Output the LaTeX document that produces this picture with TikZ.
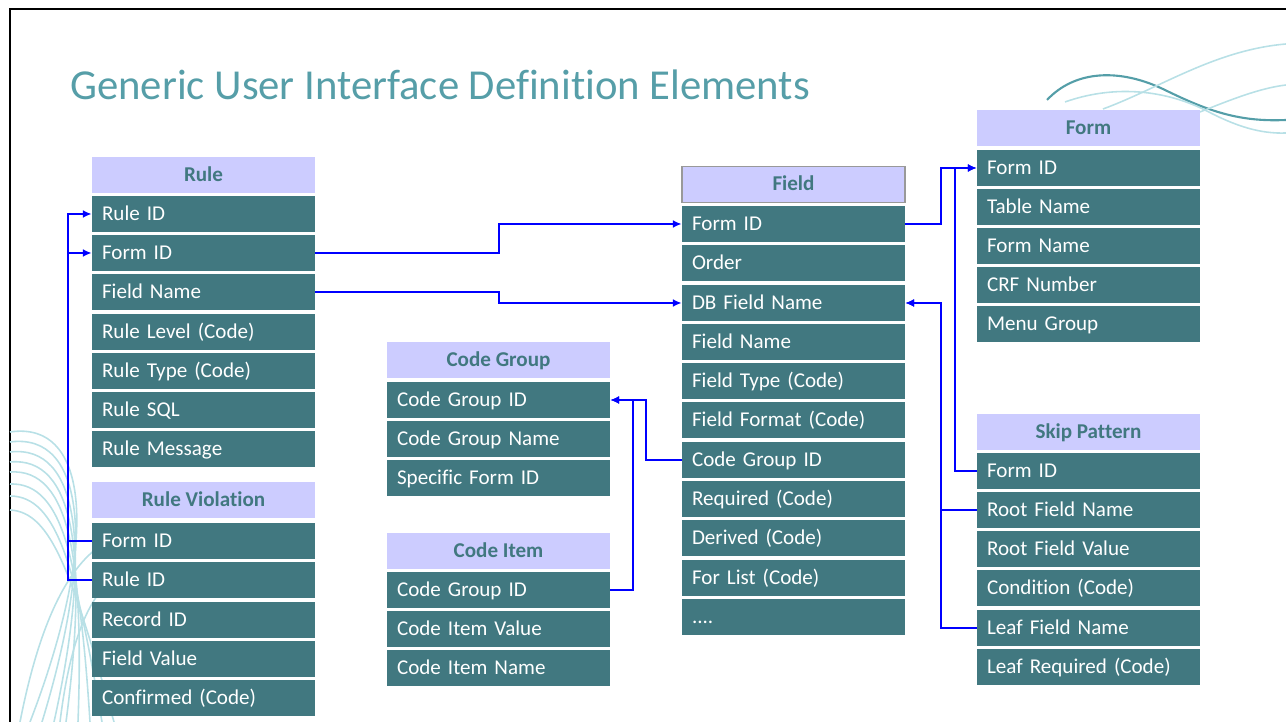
\documentclass[tikz,border=0pt]{standalone}
\usepackage{fontspec}
\setmainfont{Carlito}[Ligatures=NoCommon]
\usetikzlibrary{arrows.meta}

\definecolor{rowteal}{RGB}{65,120,128}
\definecolor{headlav}{RGB}{204,204,255}
\definecolor{titleteal}{RGB}{86,158,168}
\definecolor{decolight}{RGB}{184,224,230}
\definecolor{decodark}{RGB}{84,158,168}

\tikzset{
  row/.style={fill=rowteal, text=white, text width=4.06cm, inner xsep=0.2cm,
    minimum height=0.72cm, align=left, text height=9pt, text depth=1.8pt,
    font=\fontsize{12}{14}\selectfont},
  head/.style={fill=headlav, text=rowteal, minimum width=4.46cm, minimum height=0.72cm,
    text height=9pt, text depth=1.8pt, font=\fontsize{12}{14}\selectfont\bfseries},
  link/.style={blue, line width=1.1pt},
  deco/.style={decolight, line width=0.9pt},
}

\begin{document}
\begin{tikzpicture}[x=0.02cm, y=-0.02cm, >={Latex[length=5pt,width=4.5pt]}]
    \useasboundingbox (0,0) rectangle (1286,722);
    \draw[line width=1.2pt] (10,722) -- (10,9) -- (1286,9);

    % background swirls
    \draw[decodark, line width=1.2pt] (1047,100) .. controls (1075,70) and (1120,68) .. (1165,90)
        .. controls (1210,112) and (1240,122) .. (1286,120);
    \draw[deco] (1065,102) .. controls (1110,86) and (1160,88) .. (1205,110)
        .. controls (1235,126) and (1260,134) .. (1286,133);
    \draw[deco] (1103,109) .. controls (1160,88) and (1215,50) .. (1286,44);
    \draw[deco] (1200,112) .. controls (1230,100) and (1260,88) .. (1286,85);

    \draw[deco] (10,432) .. controls (90,420) and (100,540) .. (30,722);
    \draw[deco] (10,442) .. controls (85,432) and (96,545) .. (42,722);
    \draw[deco] (10,452) .. controls (80,444) and (92,550) .. (54,722);
    \draw[deco] (10,462) .. controls (75,456) and (88,555) .. (66,722);
    \draw[deco] (10,472) .. controls (70,468) and (84,560) .. (78,722);
    \draw[deco] (10,484) .. controls (64,482) and (80,565) .. (90,722);
    \draw[deco] (10,496) .. controls (58,496) and (76,570) .. (102,722);
    \draw[deco] (10,510) .. controls (52,512) and (72,575) .. (114,722);
    \draw[deco] (20,722) .. controls (40,620) and (70,560) .. (110,540);
    \draw[deco] (60,722) .. controls (70,640) and (90,590) .. (120,575);

    \node[titleteal, anchor=base west, inner sep=0pt, font=\fontsize{24.3}{28}\selectfont]
        (title) at (70,100) {Generic User Interface Definition Elements};

    % Rule
    \node[head] (rulehead) at (203.5,175) {Rule};
    \node[row] (ruleid) at (203.5,214) {Rule ID};
    \node[row] (ruleform) at (203.5,253) {Form ID};
    \node[row] (rulefield) at (203.5,292) {Field Name};
    \node[row] (rulelevel) at (203.5,332) {Rule Level (Code)};
    \node[row] (ruletype) at (203.5,371) {Rule Type (Code)};
    \node[row] (rulesql) at (203.5,410) {Rule SQL};
    \node[row] (rulemsg) at (203.5,449) {Rule Message};

    % Rule Violation
    \node[head] (rvhead) at (203.5,500) {Rule Violation};
    \node[row] (rvform) at (203.5,541) {Form ID};
    \node[row] (rvrule) at (203.5,580) {Rule ID};
    \node[row] (rvrecord) at (203.5,620) {Record ID};
    \node[row] (rvvalue) at (203.5,659) {Field Value};
    \node[row] (rvconf) at (203.5,698) {Confirmed (Code)};

    % Code Group
    \node[head] (cghead) at (498.5,360.5) {Code Group};
    \node[row] (cgid) at (498.5,400) {Code Group ID};
    \node[row] (cgname) at (498.5,439) {Code Group Name};
    \node[row] (cgform) at (498.5,478) {Specific Form ID};

    % Code Item
    \node[head] (cihead) at (498.5,551) {Code Item};
    \node[row] (cicg) at (498.5,590) {Code Group ID};
    \node[row] (civalue) at (498.5,629) {Code Item Value};
    \node[row] (ciname) at (498.5,668) {Code Item Name};

    % Field
    \node[head, draw=black!40, line width=0.8pt] (fieldhead) at (793.5,184.5) {Field};
    \node[row] (fieldform) at (793.5,224) {Form ID};
    \node[row] (fieldorder) at (793.5,263) {Order};
    \node[row] (fielddb) at (793.5,303) {DB Field Name};
    \node[row] (fieldname) at (793.5,342) {Field Name};
    \node[row] (fieldtype) at (793.5,381) {Field Type (Code)};
    \node[row] (fieldformat) at (793.5,420) {Field Format (Code)};
    \node[row] (fieldcg) at (793.5,460) {Code Group ID};
    \node[row] (fieldreq) at (793.5,499) {Required (Code)};
    \node[row] (fieldder) at (793.5,538) {Derived (Code)};
    \node[row] (fieldlist) at (793.5,578) {For List (Code)};
    \node[row] (fieldmore) at (793.5,617) {....};

    % Form
    \node[head] (formhead) at (1088.5,128) {Form};
    \node[row] (formid) at (1088.5,168) {Form ID};
    \node[row] (formtable) at (1088.5,207) {Table Name};
    \node[row] (formname) at (1088.5,246) {Form Name};
    \node[row] (formcrf) at (1088.5,285) {CRF Number};
    \node[row] (formmenu) at (1088.5,324) {Menu Group};

    % Skip Pattern
    \node[head] (skiphead) at (1088.5,432) {Skip Pattern};
    \node[row] (skipform) at (1088.5,471) {Form ID};
    \node[row] (skiproot) at (1088.5,510) {Root Field Name};
    \node[row] (skiprootval) at (1088.5,549) {Root Field Value};
    \node[row] (skipcond) at (1088.5,588) {Condition (Code)};
    \node[row] (skipleaf) at (1088.5,628) {Leaf Field Name};
    \node[row] (skipleafreq) at (1088.5,667) {Leaf Required (Code)};

    % links
    \draw[link, ->] (ruleform.east) -- ++(184,0) |- (fieldform.west);
    \draw[link, ->] (rulefield.east) -- ++(184,0) |- (fielddb.west);
    \draw[link, ->] (rvrule.west) -- ++(-24,0) |- (ruleid.west);
    \draw[link, ->] (rvform.west) -- ++(-24,0) |- (ruleform.west);
    \draw[link, ->] (fieldform.east) -- ++(36,0) |- (formid.west);
    \draw[link, ->] (skipform.west) -- ++(-22,0) |- (formid.west);
    \draw[link, ->] (skiproot.west) -- ++(-36,0) |- (fielddb.east);
    \draw[link, ->] (skipleaf.west) -- ++(-36,0) |- (fielddb.east);
    \draw[link, ->] (fieldcg.west) -- ++(-36,0) |- (cgid.east);
    \draw[link, ->] (cicg.east) -- ++(23,0) |- (cgid.east);
\end{tikzpicture}
\end{document}
